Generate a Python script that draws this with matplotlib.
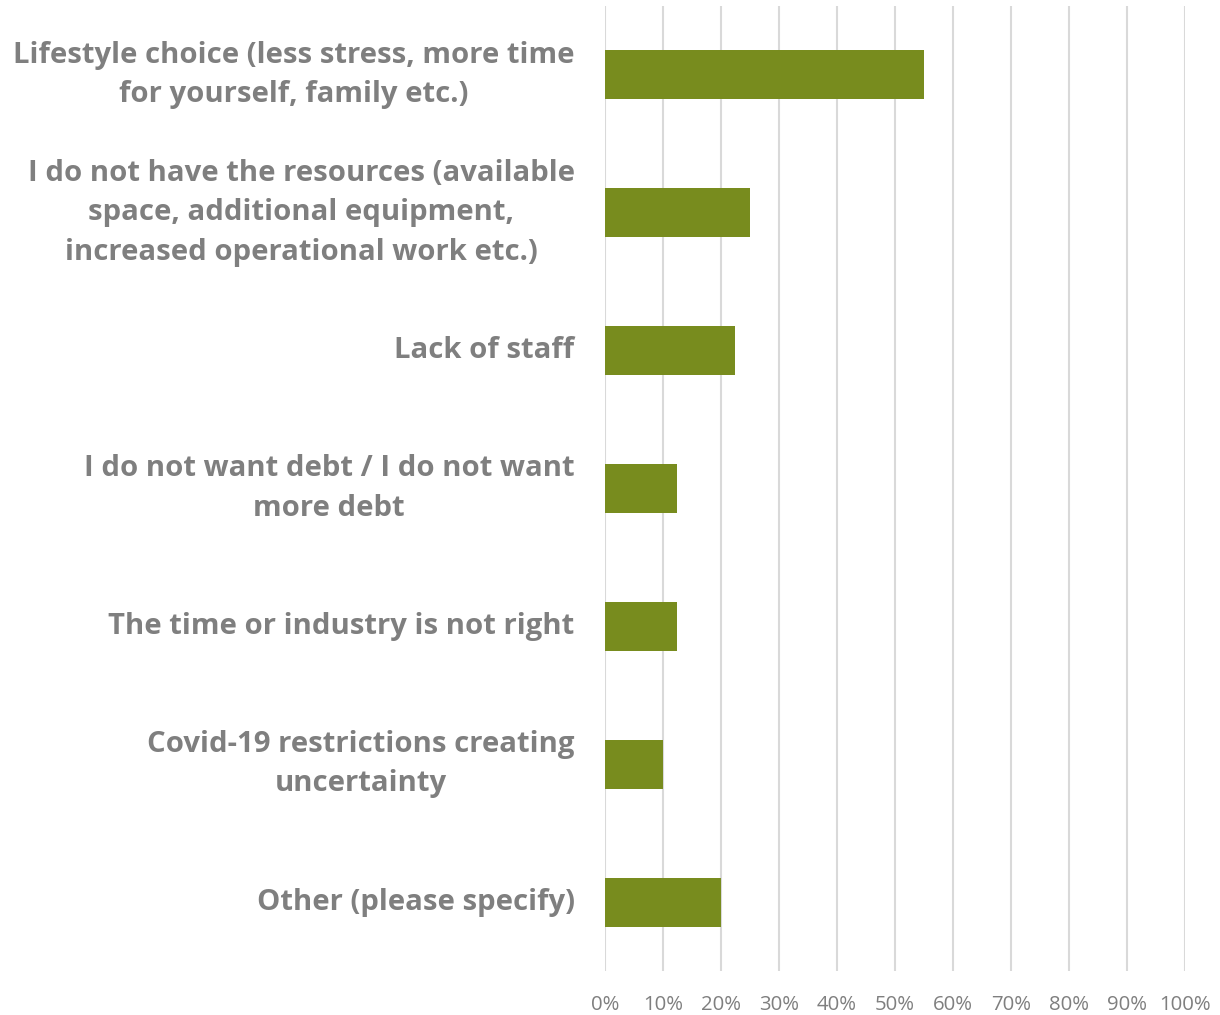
import matplotlib.pyplot as plt
from matplotlib.ticker import PercentFormatter

# Reasons given, top to bottom, with share of respondents (%)
reasons = [
    "Lifestyle choice (less stress, more time\nfor yourself, family etc.)",
    "I do not have the resources (available\nspace, additional equipment,\nincreased operational work etc.)",
    "Lack of staff",
    "I do not want debt / I do not want\nmore debt",
    "The time or industry is not right",
    "Covid-19 restrictions creating\nuncertainty",
    "Other (please specify)",
]
shares = [55, 25, 22.5, 12.5, 12.5, 10, 20]
ticks = list(range(0, 101, 10))

BAR_COLOR = "#788c1e"
TEXT_COLOR = "#7f7f7f"
GRID_COLOR = "#d9d9d9"

plt.rcParams["font.family"] = ["Open Sans", "DejaVu Sans"]

fig = plt.figure(figsize=(12.2, 10.15), dpi=100)
ax = fig.add_axes([0.4957, 0.0433, 0.4756, 0.9508])

positions = list(range(len(reasons)))
ax.barh(positions, shares, height=0.355, color=BAR_COLOR, zorder=3)

ax.set_xlim(0, 100)
ax.set_ylim(len(reasons) - 0.5, -0.5)
ax.set_xticks(ticks)
ax.xaxis.set_major_formatter(PercentFormatter(decimals=0))
ax.tick_params(axis="x", length=0, pad=17, labelsize=14.7, labelcolor=TEXT_COLOR)
ax.set_yticks([])
ax.grid(axis="x", color=GRID_COLOR, linewidth=1.5, zorder=0)
for side in ax.spines.values():
    side.set_visible(False)

# Category labels, right aligned next to the axis, lines centred
for pos, label in zip(positions, reasons):
    ax.text(-5.2, pos, label, ha="right", va="center", ma="center",
            fontsize=21.1, fontweight="bold", color=TEXT_COLOR,
            linespacing=1.47)

fig.savefig("out.png", dpi=100)
